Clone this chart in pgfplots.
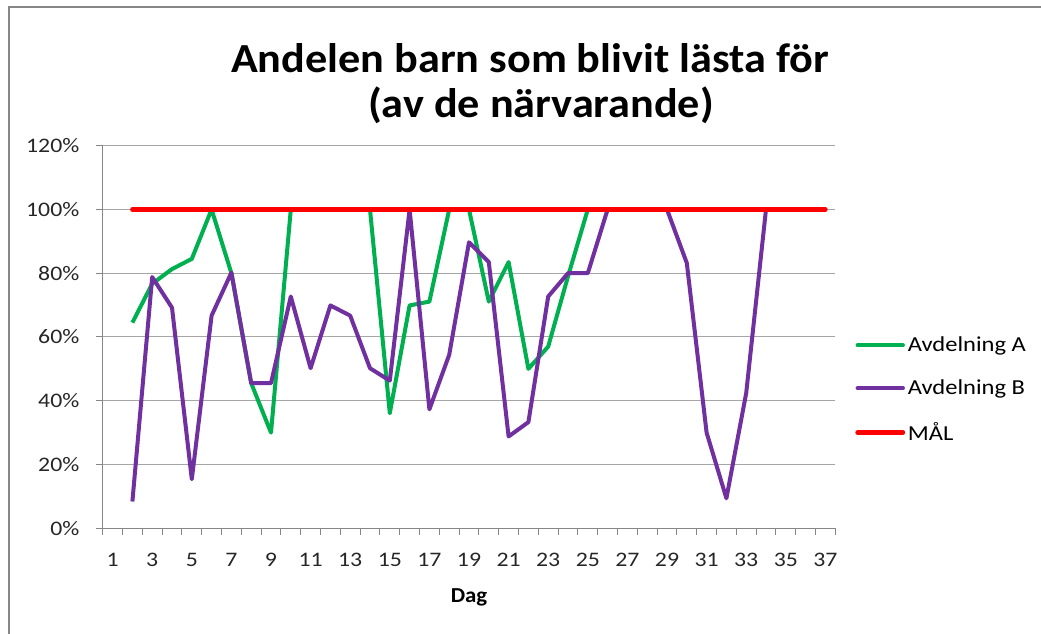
\documentclass[border=0pt]{standalone}
\usepackage{pgfplots}
\pgfplotsset{compat=1.18}
\usepackage{fontspec}
\setmainfont{Carlito}[FakeStretch=1.15]
\newfontfamily\titlefont{Carlito}[FakeStretch=1.07]
\definecolor{grA}{HTML}{00B050}
\definecolor{puB}{HTML}{7030A0}
\definecolor{redM}{HTML}{FF0000}
\definecolor{gridc}{HTML}{A6A6A6}
\definecolor{axc}{HTML}{868686}
\definecolor{framec}{HTML}{878787}
\begin{document}
\begin{tikzpicture}[x=0.75pt,y=0.75pt]
\useasboundingbox (0,0) rectangle (1041,634);
\draw[framec, line width=1.8pt] (9,0) -- (9,627) -- (1041,627);
\node[font=\titlefont\fontsize{31}{36}\selectfont\bfseries] at (530,576) {Andelen barn som blivit lästa för};
\node[font=\titlefont\fontsize{31}{36}\selectfont\bfseries] at (541,529) {(av de närvarande)};
\begin{axis}[
  at={(77.025pt,79.275pt)}, anchor=south west,
  scale only axis, width=549.45pt, height=286.95pt,
  xmin=0.5, xmax=37.5, ymin=0, ymax=120,
  axis x line=bottom, axis y line=left,
  axis line style={axc, line width=0.75pt, -},
  xtick={0.5,1.5,...,37.5}, xticklabels={},
  extra x ticks={1,3,...,37},
  extra x tick labels={1,3,5,7,9,11,13,15,17,19,21,23,25,27,29,31,33,35,37},
  extra x tick style={major tick length=0pt, tick label style={yshift=-15pt}},
  ytick={0,20,...,120},
  tick align=outside, major tick length=5pt,
  tick style={axc, line width=0.75pt},
  ymajorgrids, grid style={gridc, line width=0.75pt},
  yticklabel={\pgfmathprintnumber{\tick}\%},
  yticklabel style={xshift=-9pt},
  /pgf/number format/assume math mode=true,
  tick label style={font=\fontsize{15.5}{19}\selectfont, black!85},
  xlabel={Dag}, xlabel style={font=\titlefont\fontsize{16}{19}\selectfont\bfseries, yshift=-4.5pt},
  legend style={at={(1.027,0.5075)}, anchor=north west, draw=none, fill=none,
    font=\fontsize{16}{19}\selectfont, row sep=15.4pt, inner sep=0pt},
  legend cell align=left,
  legend image code/.code={\draw[#1, line cap=round] (0pt,0pt) -- (34pt,0pt);},
]
\addplot[grA, line width=3pt, line join=round] coordinates {
 (2,64.5) (3,76.7) (4,81.3) (5,84.5) (6,100) (7,80) (8,45.5) (9,30)
 (10,100) (11,100) (12,100) (13,100) (14,100) (15,36.1) (16,69.9) (17,71.1)
 (18,100) (19,100) (20,71.1) (21,83.5) (22,50) (23,57) (24,79) (25,100)
 (26,100) (27,100) (28,100) (29,100) (30,100) (31,100) (32,100) (33,100) (34,100)};
\addlegendentry{Avdelning A}
\addplot[puB, line width=3pt, line join=round] coordinates {
 (2,8.4) (3,78.8) (4,69.2) (5,15.4) (6,66.7) (7,80.2) (8,45.5) (9,45.5)
 (10,72.7) (11,50.2) (12,69.9) (13,66.7) (14,50.2) (15,46.3) (16,100) (17,37.3)
 (18,54.4) (19,89.7) (20,83.5) (21,28.8) (22,33.3) (23,72.7) (24,80) (25,80)
 (26,100) (27,100) (28,100) (29,100) (30,83.2) (31,30) (32,9.4) (33,42.4) (34,100)};
\addlegendentry{Avdelning B}
\addplot[redM, line width=3.4pt, line cap=round] coordinates {
 (2,100) (3,100) (4,100) (5,100) (6,100) (7,100) (8,100) (9,100) (10,100)
 (11,100) (12,100) (13,100) (14,100) (15,100) (16,100) (17,100) (18,100) (19,100)
 (20,100) (21,100) (22,100) (23,100) (24,100) (25,100) (26,100) (27,100) (28,100)
 (29,100) (30,100) (31,100) (32,100) (33,100) (34,100) (35,100) (36,100) (37,100)};
\addlegendentry{MÅL}
\end{axis}
\end{tikzpicture}
\end{document}
